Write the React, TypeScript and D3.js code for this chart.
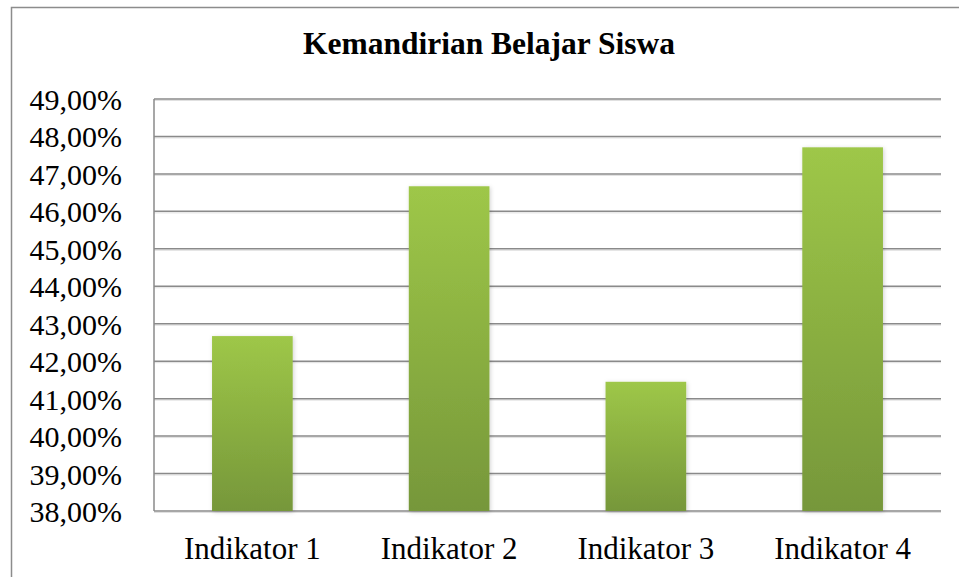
import React from "react";
import * as d3 from "d3";

const categories = ["Indikator 1", "Indikator 2", "Indikator 3", "Indikator 4"];
const values = [0.4267, 0.4667, 0.4145, 0.4771];
const yTicks = [0.38, 0.39, 0.40, 0.41, 0.42, 0.43, 0.44, 0.45, 0.46, 0.47, 0.48, 0.49];
const title = "Kemandirian Belajar Siswa";

const W = 959;
const H = 577;
const plot = { left: 154, right: 941, top: 99, bottom: 511 };

export default function App() {
  const x = d3
    .scaleBand<string>()
    .domain(categories)
    .range([plot.left, plot.right])
    .paddingInner(0.59)
    .paddingOuter(0.295);
  const y = d3.scaleLinear().domain([0.38, 0.49]).range([plot.bottom, plot.top]);
  const fmt = (v: number) => (v * 100).toFixed(2).replace(".", ",") + "%";
  const font = "Liberation Serif";

  return (
    <svg
      width={W}
      height={H}
      style={{ position: "absolute", left: 0, top: 0, background: "#fff", fontFamily: font }}
    >
      <defs>
        <linearGradient id="barGrad" x1="0" y1="0" x2="0" y2="1">
          <stop offset="0%" stopColor="#9ec748" />
          <stop offset="100%" stopColor="#76973a" />
        </linearGradient>
        <filter id="shadow" x="-20%" y="-5%" width="140%" height="110%">
          <feDropShadow dx="1" dy="1" stdDeviation="2" floodColor="#000" floodOpacity="0.18" />
        </filter>
      </defs>
      <path d={`M11.5,${H} L11.5,7.5 L${W},7.5`} fill="none" stroke="#8c8c8c" strokeWidth={1.5} />
      <text x={489} y={54} textAnchor="middle" fontSize={31.5} fontWeight="bold" fill="#000" style={{ fontFamily: font }}>
        {title}
      </text>
      {yTicks.map((t) => (
        <g key={t}>
          <line x1={plot.left} x2={plot.right} y1={y(t) + 1.5} y2={y(t) + 1.5} stroke="#e0e0e0" strokeWidth={1} />
          <line x1={plot.left} x2={plot.right} y1={y(t)} y2={y(t)} stroke="#8a8a8a" strokeWidth={1.5} />
          <text x={122} y={y(t) + 11} textAnchor="end" fontSize={30} fill="#000" style={{ fontFamily: font }}>
            {fmt(t)}
          </text>
        </g>
      ))}
      <line x1={plot.left} x2={plot.left} y1={plot.top} y2={plot.bottom} stroke="#8a8a8a" strokeWidth={1.5} />
      {categories.map((c, i) => (
        <rect
          key={c}
          x={x(c)!}
          y={y(values[i])}
          width={x.bandwidth()}
          height={plot.bottom - y(values[i])}
          fill="url(#barGrad)"
          filter="url(#shadow)"
        />
      ))}
      {categories.map((c) => (
        <text
          key={c}
          x={x(c)! + x.bandwidth() / 2}
          y={559}
          textAnchor="middle"
          fontSize={31}
          fill="#000"
          style={{ fontFamily: font }}
        >
          {c}
        </text>
      ))}
    </svg>
  );
}
